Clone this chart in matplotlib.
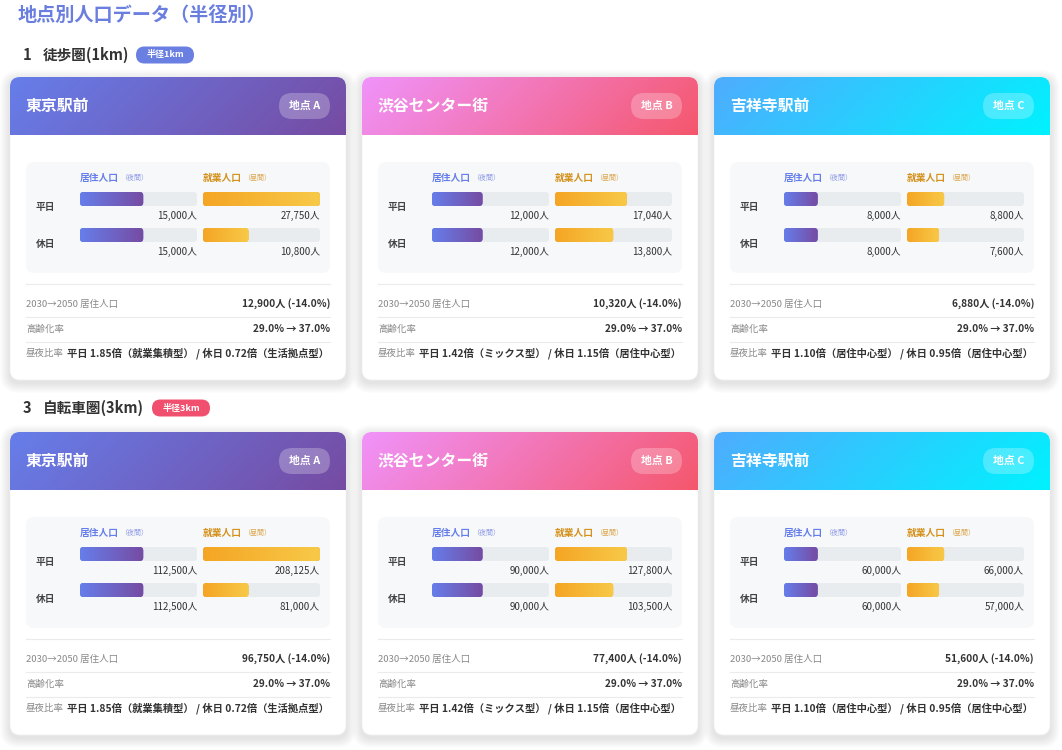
import matplotlib
matplotlib.use("Agg")
import matplotlib.pyplot as plt
import numpy as np
from matplotlib.patches import FancyBboxPatch
from matplotlib.colors import LinearSegmentedColormap

plt.rcParams['font.family'] = ['Noto Sans CJK JP', 'DejaVu Sans']

W, H = 1062, 750

# ---- data ----
title = "地点別人口データ（半径別）"
section_nums = ["1", "3"]
section_names = ["徒歩圏(1km)", "自転車圏(3km)"]
badges = ["半径1km", "半径3km"]
sites = ["東京駅前", "渋谷センター街", "吉祥寺駅前"]
site_tags = ["地点 A", "地点 B", "地点 C"]

res_weekday = [[15000, 12000, 8000], [112500, 90000, 60000]]
res_holiday = [[15000, 12000, 8000], [112500, 90000, 60000]]
work_weekday = [[27750, 17040, 8800], [208125, 127800, 66000]]
work_holiday = [[10800, 13800, 7600], [81000, 103500, 57000]]
pop_2050 = [[12900, 10320, 6880], [96750, 77400, 51600]]
pop_change = [-14.0, -14.0, -14.0]
aging_2030 = [29.0, 29.0, 29.0]
aging_2050 = [37.0, 37.0, 37.0]
ratio_weekday = [1.85, 1.42, 1.10]
type_weekday = ["就業集積型", "ミックス型", "居住中心型"]
ratio_holiday = [0.72, 1.15, 0.95]
type_holiday = ["生活拠点型", "居住中心型", "居住中心型"]

# ---- style ----
header_colors = [("#667eea", "#764ba2"), ("#f093fb", "#f5576c"), ("#4facfe", "#00f2fe")]
badge_colors = ["#6a7fe2", "#f0506e"]
res_grad = ("#667eea", "#764ba2")
work_grad = ("#f5a524", "#f8c948")
card_x = [10, 362, 714]
card_y = [77, 432]
section_y = [55, 408]
badge_x = [136, 152]
CW, CH, HH = 336, 303, 58

fig = plt.figure(figsize=(W / 100, H / 100), dpi=100)
fig.patch.set_facecolor("white")
ax = fig.add_axes([0, 0, 1, 1])
ax.set_xlim(0, W)
ax.set_ylim(H, 0)
ax.axis("off")


def rbox(a, x, y, w, h, r, **kw):
    p = FancyBboxPatch((x, y), w, h, boxstyle=f"round,pad=0,rounding_size={r}", **kw)
    a.add_patch(p)
    return p


def gradient(a, x0, y0, w, h, c1, c2, clip, z, diag=True):
    xs = np.linspace(0, w, 300)
    ys = np.linspace(0, h, 60)
    X, Y = np.meshgrid(xs, ys)
    if diag:
        T = ((X - w / 2) + (Y - h / 2)) / (w + h) + 0.5
    else:
        T = X / w
    cmap = LinearSegmentedColormap.from_list("g", [c1, c2])
    im = a.imshow(T, cmap=cmap, vmin=0, vmax=1, extent=[x0, x0 + w, y0 + h, y0],
                  origin="upper", aspect="auto", interpolation="bilinear", zorder=z)
    im.set_clip_path(clip)
    return im


ax.text(18, 15, title, fontsize=13.8, fontweight="bold", color="#6a7ee0", va="center")

for s in range(2):
    sy = section_y[s]
    ax.text(23, sy, section_nums[s], fontsize=10.5, fontweight="bold", color="#333333", va="center")
    ax.text(43, sy, section_names[s], fontsize=10.5, fontweight="bold", color="#333333", va="center")
    rbox(ax, badge_x[s], sy - 8.5, 58, 17, 8.5, facecolor=badge_colors[s], edgecolor="none", zorder=2)
    ax.text(badge_x[s] + 29, sy, badges[s], fontsize=6.5, fontweight="bold", color="white",
            ha="center", va="center", zorder=3)

    smax = max(max(res_weekday[s]), max(res_holiday[s]), max(work_weekday[s]), max(work_holiday[s]))

    for c in range(3):
        cx, cy = card_x[c], card_y[s]
        # shadow
        for i in range(1, 10):
            rbox(ax, cx - i * 1.1, cy + 3 - i * 1.1, CW + i * 2.2, CH + i * 2.2, 10 + i,
                 facecolor="black", edgecolor="none", alpha=0.011, zorder=1)
        card = rbox(ax, cx, cy, CW, CH, 10, facecolor="white", edgecolor="#f0f0f0", lw=0.5, zorder=2)
        gradient(ax, cx, cy, CW, HH, header_colors[c][0], header_colors[c][1], card, 3)
        ax.text(cx + 16, cy + 29, sites[c], fontsize=11.4, fontweight="bold", color="white",
                va="center", zorder=4)
        rbox(ax, cx + 269, cy + 16, 51, 26, 13, facecolor="white", edgecolor="none", alpha=0.25, zorder=4)
        ax.text(cx + 294.5, cy + 29, site_tags[c], fontsize=7.8, fontweight="bold", color="white",
                ha="center", va="center", zorder=5)

        # bar panel
        rbox(ax, cx + 16, cy + 85, 304, 111, 8, facecolor="#f7f8fa", edgecolor="none", zorder=3)
        ax.text(cx + 70, cy + 101, "居住人口", fontsize=7, fontweight="bold", color="#667eea",
                va="center", zorder=4)
        ax.text(cx + 110, cy + 101, "（夜間）", fontsize=5, color="#8d9be6", va="center", zorder=4)
        ax.text(cx + 193, cy + 101, "就業人口", fontsize=7, fontweight="bold", color="#d4921c",
                va="center", zorder=4)
        ax.text(cx + 233, cy + 101, "（昼間）", fontsize=5, color="#dca64e", va="center", zorder=4)
        ax.text(cx + 26, cy + 130, "平日", fontsize=7, fontweight="bold", color="#444444",
                va="center", zorder=4)
        ax.text(cx + 26, cy + 167, "休日", fontsize=7, fontweight="bold", color="#444444",
                va="center", zorder=4)

        for col, (x_off, vals, grad) in enumerate([
                (70, [res_weekday[s][c], res_holiday[s][c]], res_grad),
                (193, [work_weekday[s][c], work_holiday[s][c]], work_grad)]):
            y_top = cy + 104
            bax = fig.add_axes([(cx + x_off) / W, 1 - (y_top + 72) / H, 117 / W, 72 / H])
            bax.set_xlim(0, smax)
            bax.set_ylim(1.5, -0.5)
            bax.axis("off")
            bax.patch.set_alpha(0)
            bh = 14 / 36
            r = 3.5 * smax / 117
            asp = (3.5 / 36) / r
            for row, v in enumerate(vals):
                rbox(bax, 0, row - bh / 2, smax, bh, r, facecolor="#e9ecef", edgecolor="none",
                     mutation_aspect=asp, zorder=1)
                fill = rbox(bax, 0, row - bh / 2, v, bh, r, facecolor=grad[0], edgecolor="none",
                            mutation_aspect=asp, zorder=2)
                gradient(bax, 0, row - bh / 2, v, bh, grad[0], grad[1], fill, 3, diag=False)
                bax.text(smax, row + 0.47, f"{v:,}人", fontsize=7, color="#333333",
                         ha="right", va="center", clip_on=False)
            bax.set_xlim(0, smax)
            bax.set_ylim(1.5, -0.5)

        # bottom rows
        x0, x1 = cx + 16, cx + 320
        for dy in (207, 240, 265):
            ax.plot([x0, x1], [cy + dy, cy + dy], color="#ebebeb", lw=0.8, zorder=3)
        ax.text(x0, cy + 227, "2030→2050 居住人口", fontsize=6.8, color="#888888", va="center", zorder=4)
        ax.text(x1, cy + 227, f"{pop_2050[s][c]:,}人 ({pop_change[c]:.1f}%)", fontsize=7.3,
                fontweight="semibold", color="#333333", ha="right", va="center", zorder=4)
        ax.text(x0, cy + 252, "高齢化率", fontsize=6.8, color="#888888", va="center", zorder=4)
        ax.text(x1, cy + 252, f"{aging_2030[c]:.1f}% → {aging_2050[c]:.1f}%", fontsize=7.3,
                fontweight="semibold", color="#333333", ha="right", va="center", zorder=4)
        ax.text(x0, cy + 276, "昼夜比率", fontsize=6.8, color="#888888", va="center", zorder=4)
        ax.text(x0 + 41, cy + 276,
                f"平日 {ratio_weekday[c]:.2f}倍（{type_weekday[c]}） / 休日 {ratio_holiday[c]:.2f}倍（{type_holiday[c]}）",
                fontsize=7.4, fontweight="bold", color="#333333", va="center", zorder=4)

ax.set_xlim(0, W)
ax.set_ylim(H, 0)
fig.savefig("out.png", dpi=100)
